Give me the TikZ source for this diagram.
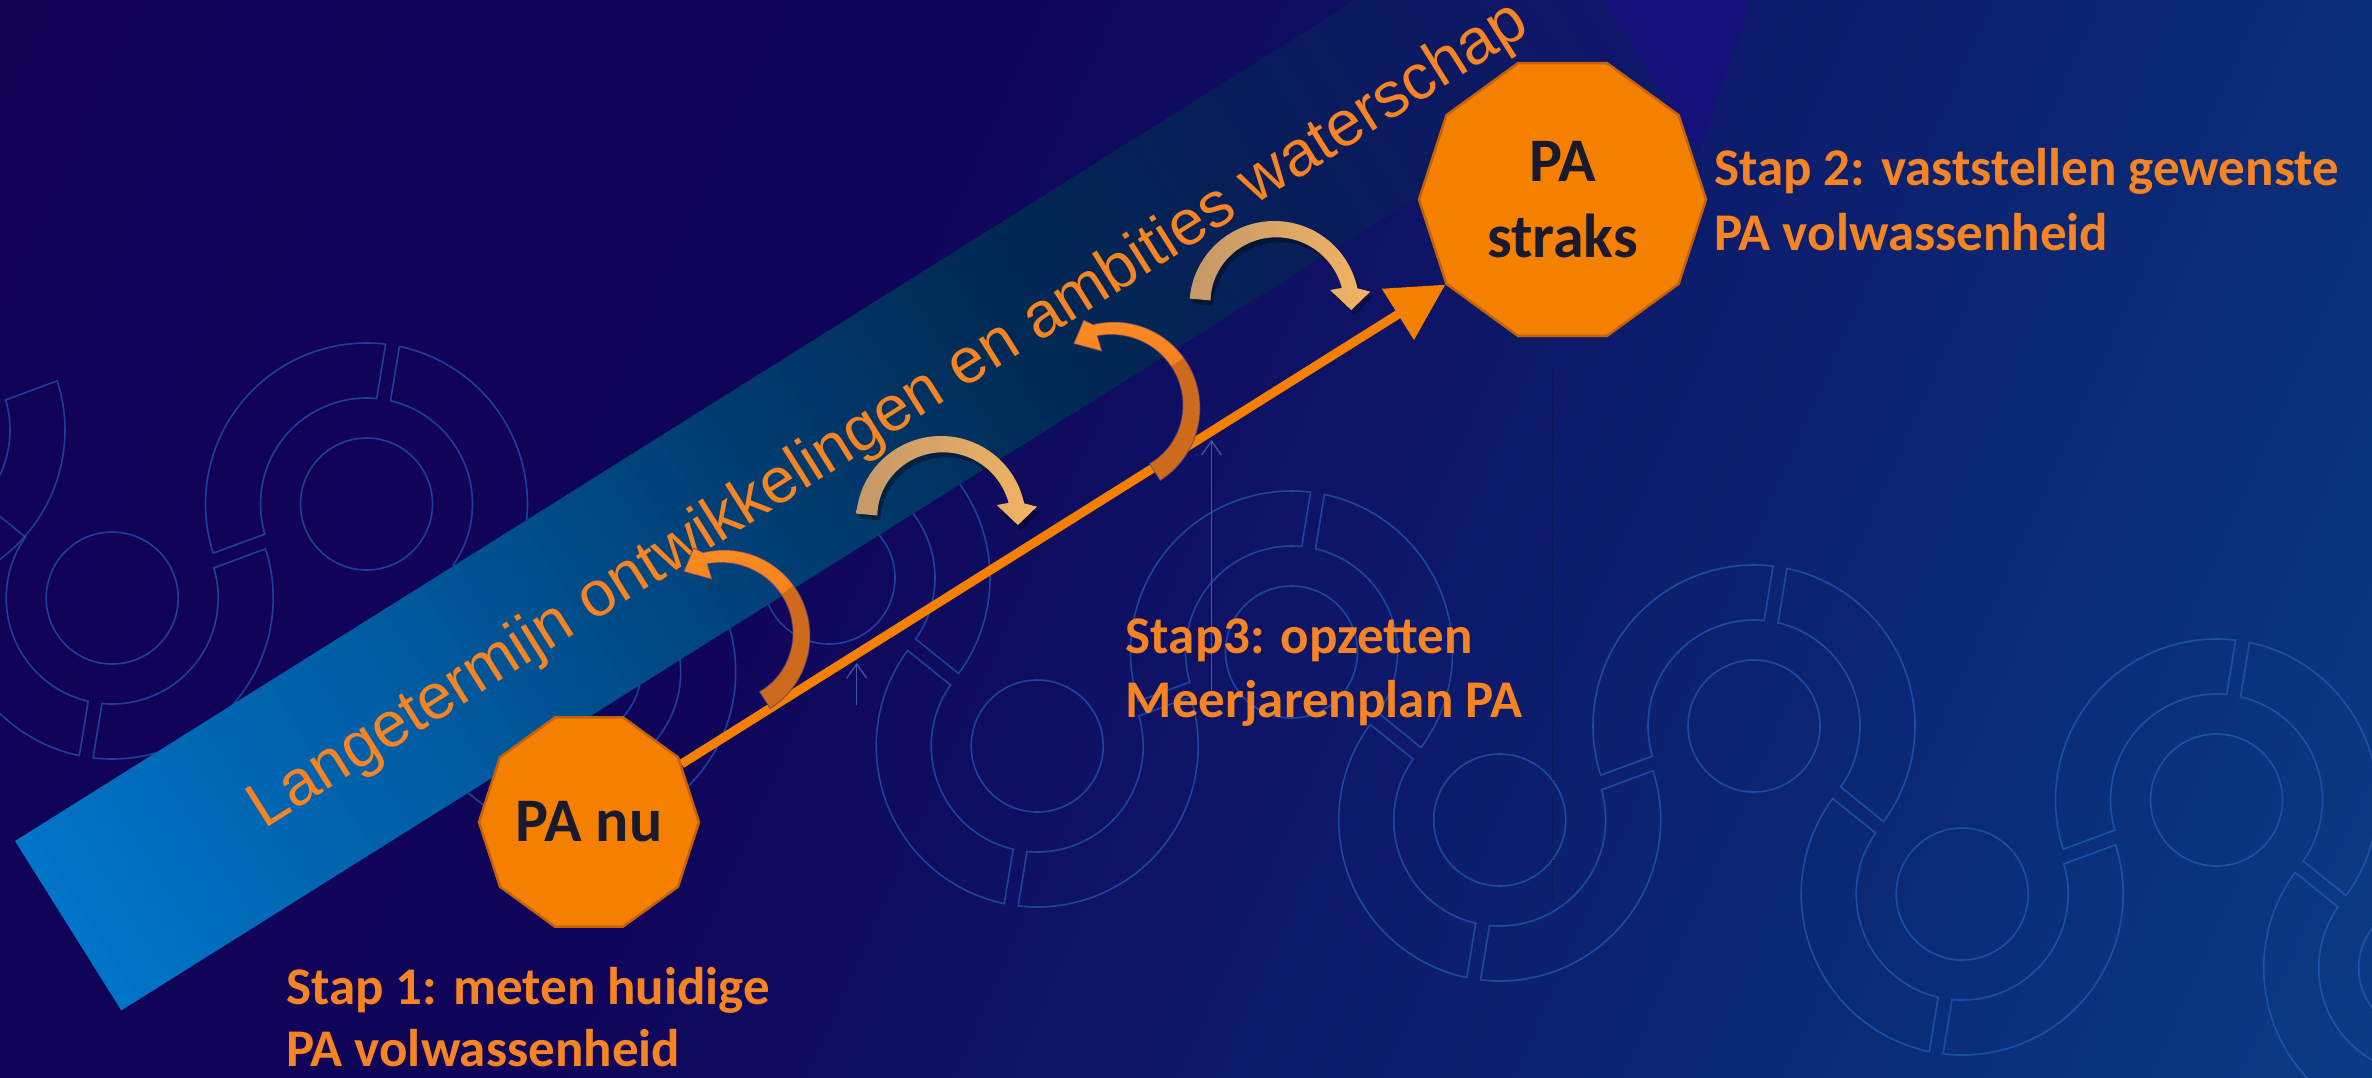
\documentclass[tikz,border=0pt]{standalone}
\usepackage{fontspec}
\setmainfont{Carlito}
\newfontfamily\arialfont{Liberation Sans}
\usetikzlibrary{shapes.geometric,arrows.meta}

\definecolor{bgA}{RGB}{17,0,80}
\definecolor{bgB}{RGB}{16,4,90}
\definecolor{bgC}{RGB}{10,42,118}
\definecolor{bgD}{RGB}{10,82,150}
\definecolor{orangeT}{RGB}{246,132,34}
\definecolor{paFill}{RGB}{245,128,0}
\definecolor{paEdge}{RGB}{196,98,10}
\definecolor{paText}{RGB}{26,26,46}
\definecolor{ringcol}{RGB}{40,100,190}
\definecolor{faintcol}{RGB}{70,85,160}
\definecolor{bandA}{RGB}{0,116,200}
\definecolor{bandB}{RGB}{0,92,162}
\definecolor{bandC}{RGB}{0,62,115}
\definecolor{bandD}{RGB}{0,40,82}
\definecolor{bandE}{RGB}{8,28,90}
\definecolor{bandF}{RGB}{16,22,106}
\definecolor{bandHead}{RGB}{22,16,122}
\definecolor{arrLight}{RGB}{250,140,36}
\definecolor{arrMid}{RGB}{244,128,32}
\definecolor{arrDark}{RGB}{206,106,28}
\definecolor{arrEdge}{RGB}{70,60,130}
\definecolor{tanL}{RGB}{196,152,104}
\definecolor{tanR}{RGB}{242,180,100}

\pgfdeclarelayer{back}
\pgfdeclarelayer{mid}
\pgfsetlayers{back,mid,main}

\pgfdeclarehorizontalshading{bgshade}{100bp}{color(0bp)=(bgA); color(40bp)=(bgB); color(70bp)=(bgC); color(100bp)=(bgD)}

% one gradient piece of the broad band: s-start, s-end, colour A, colour B, count
\newcommand\bandseg[5]{%
  \foreach \i in {1,...,#5}{%
    \pgfmathsetmacro\sa{#1+(#2-#1)*(\i-1)/#5}%
    \pgfmathsetmacro\sb{#1+(#2-#1)*\i/#5+1.5}%
    \pgfmathsetmacro\pc{100*(\i-0.5)/#5}%
    \colorlet{stripcol}{#4!\pc!#3}%
    \fill[stripcol] ({15+\sa*0.8471},{841-\sa*0.5314}) -- ({15+\sb*0.8471},{841-\sb*0.5314})
      -- ({121.3+\sb*0.8471},{1010.4-\sb*0.5314}) -- ({121.3+\sa*0.8471},{1010.4-\sa*0.5314}) -- cycle;
  }}

% ring band piece: cx, cy, from angle, to angle (angles counted anticlockwise)
\newcommand\ringseg[4]{%
  \draw[ringline] ({#1+161*cos(#3+2.49)},{#2-161*sin(#3+2.49)})
    arc[start angle={-(#3+2.49)}, end angle={-(#4-2.49)}, radius=161]
    -- ({#1+106*cos(#4-3.79)},{#2-106*sin(#4-3.79)})
    arc[start angle={-(#4-3.79)}, end angle={-(#3+3.79)}, radius=106] -- cycle;}
\newcommand\ringone[2]{%
  \draw[ringline] (#1,#2) circle[radius=66];
  \ringseg{#1}{#2}{-38.9}{80.69}%
  \ringseg{#1}{#2}{80.69}{200.28}}
\newcommand\ringtwo[2]{%
  \draw[ringline] (#1,#2) circle[radius=66];
  \ringseg{#1}{#2}{141.1}{260.69}%
  \ringseg{#1}{#2}{260.69}{380.28}}

\tikzset{
  ringline/.style={draw=ringcol, draw opacity=0.62, line width=1.6pt},
  padeca/.style={regular polygon, regular polygon sides=10, fill=paFill, draw=paEdge,
    line width=2.5pt, inner sep=0pt, text=paText, align=center,
    font=\bfseries\fontsize{62}{76}\selectfont},
  steplabel/.style={anchor=base west, inner sep=0pt, text=orangeT,
    font=\bfseries\fontsize{53}{64}\selectfont},
  mainline/.style={draw=paFill, line width=9pt, -{Triangle[length=56pt,width=58pt]}},
  faintline/.style={draw=faintcol, line width=1.3pt},
  orangearrow/.pic={
    % darker lower part of the ribbon
    \fill[arrDark]
      plot[domain=-57.5:37, samples=50] ({86*cos(\x)},{-86*sin(\x)})
      -- plot[domain=37:-57.5, samples=50] ({(66+8*(\x+57.5)/160.5)*cos(\x)},{-(66+8*(\x+57.5)/160.5)*sin(\x)})
      -- cycle;
    % bright upper part with the head
    \shade[top color=arrLight, bottom color=arrMid]
      plot[domain=36:104, samples=40] ({86*cos(\x)},{-86*sin(\x)})
      -- ({93*cos(109)},{-93*sin(109)})
      -- ({76*cos(122)},{-76*sin(122)})
      -- ({58*cos(102)},{-58*sin(102)})
      -- ({74*cos(103)},{-74*sin(103)})
      -- plot[domain=103:36, samples=40] ({(66+8*(\x+57.5)/160.5)*cos(\x)},{-(66+8*(\x+57.5)/160.5)*sin(\x)})
      -- cycle;
    % thin outline
    \draw[arrEdge, draw opacity=0.6, line width=1pt]
      plot[domain=-57.5:104, samples=80] ({86*cos(\x)},{-86*sin(\x)})
      -- ({93*cos(109)},{-93*sin(109)})
      -- ({76*cos(122)},{-76*sin(122)})
      -- ({58*cos(102)},{-58*sin(102)})
      -- ({74*cos(103)},{-74*sin(103)})
      -- plot[domain=103:-57.5, samples=80] ({(66+8*(\x+57.5)/160.5)*cos(\x)},{-(66+8*(\x+57.5)/160.5)*sin(\x)})
      -- cycle;
  },
  tanarrow/.pic={
    \fill[black, opacity=0.35, shift={(3,5)}]
      plot[domain=175:12, samples=60] ({85*cos(\x)},{-85*sin(\x)})
      -- ({97*cos(8.5)},{-97*sin(8.5)}) -- ({77*cos(-3)},{-77*sin(-3)})
      -- ({58*cos(16)},{-58*sin(16)}) -- ({70*cos(15)},{-70*sin(15)})
      -- plot[domain=15:175, samples=60] ({(70-6*((\x-15)/160)^2)*cos(\x)},{-(70-6*((\x-15)/160)^2)*sin(\x)})
      -- cycle;
    \shade[left color=tanL, right color=tanR]
      plot[domain=175:12, samples=60] ({85*cos(\x)},{-85*sin(\x)})
      -- ({97*cos(8.5)},{-97*sin(8.5)}) -- ({77*cos(-3)},{-77*sin(-3)})
      -- ({58*cos(16)},{-58*sin(16)}) -- ({70*cos(15)},{-70*sin(15)})
      -- plot[domain=15:175, samples=60] ({(70-6*((\x-15)/160)^2)*cos(\x)},{-(70-6*((\x-15)/160)^2)*sin(\x)})
      -- cycle;
  },
}

\begin{document}
\begin{tikzpicture}[x=1pt,y=-1pt]
\useasboundingbox (0,0) rectangle (2372,1077);

\begin{pgfonlayer}{back}
\begin{scope}
\clip (0,0) rectangle (2372,1077);
% background
\fill[shading=bgshade, shading angle=-24] (0,0) rectangle (2372,1077);

% decorative chain of rings
\ringtwo{-96}{430}
\ringtwo{112.2}{598}
\ringone{366.5}{504}
\ringtwo{574.7}{672}
\ringone{829}{578}
\ringtwo{1037.2}{746}
\ringone{1291.5}{652}
\ringtwo{1499.7}{820}
\ringone{1754}{726}
\ringtwo{1962.2}{894}
\ringone{2216.5}{800}
\ringtwo{2424.7}{968}

% faint thin lines
\coordinate (f1a) at (1211.5,697); \coordinate (f1b) at (1211.5,440);
\coordinate (f2a) at (856.7,705);  \coordinate (f2b) at (856.7,663);
\coordinate (f3a) at (1552,371);   \coordinate (f3b) at (1552,900);
\draw[faintline, -{Straight Barb[length=14pt,width=20pt]}] (f1a) -- (f1b);
\draw[faintline, -{Straight Barb[length=14pt,width=20pt]}] (f2a) -- (f2b);
\draw[black, opacity=0.45, line width=1pt, dotted] (f3a) -- (f3b);

% broad band arrow
\bandseg{0}{400}{bandA}{bandB}{20}
\bandseg{400}{800}{bandB}{bandC}{20}
\bandseg{800}{1150}{bandC}{bandD}{18}
\bandseg{1150}{1450}{bandD}{bandE}{16}
\bandseg{1450}{1793}{bandE}{bandF}{16}
\fill[bandHead] (1533.9,-111.8) -- (1474.9,-205.8) -- (1805.6,-164.2) -- (1699.2,151.6) -- (1640.2,57.6) -- cycle;

\node[anchor=base west, inner sep=0pt, rotate=32.2, text=orangeT,
  font=\arialfont\fontsize{64}{64}\selectfont] (bandtext) at (264.6,829.6)
  {Langetermijn ontwikkelingen en ambities waterschap};
\end{scope}
\end{pgfonlayer}

% decagons
\node[padeca, minimum size=220pt] (panu) at (589,822) {PA nu};
\node[padeca, minimum size=287pt] (pastraks) at (1562.5,199.5) {PA\\straks};

\begin{pgfonlayer}{mid}
% main arrow, behind the decagons
\draw[mainline] (panu) -- (pastraks.216);
% curved arrows
\pic at (724,636) {orangearrow};
\pic at (941,521) {tanarrow};
\pic at (1114,408) {orangearrow};
\pic at (1274.3,306) {tanarrow};
\end{pgfonlayer}

% step labels
\node[steplabel] (s1a) at (286,1004) {Stap 1: meten huidige};
\node[steplabel] (s1b) at (286,1066) {PA volwassenheid};
\node[steplabel] (s2a) at (1714,185) {Stap 2: vaststellen gewenste};
\node[steplabel] (s2b) at (1714,250) {PA volwassenheid};
\node[steplabel] (s3a) at (1125.7,653.3) {Stap3: opzetten};
\node[steplabel] (s3b) at (1125.7,717.3) {Meerjarenplan PA};
\end{tikzpicture}
\end{document}
